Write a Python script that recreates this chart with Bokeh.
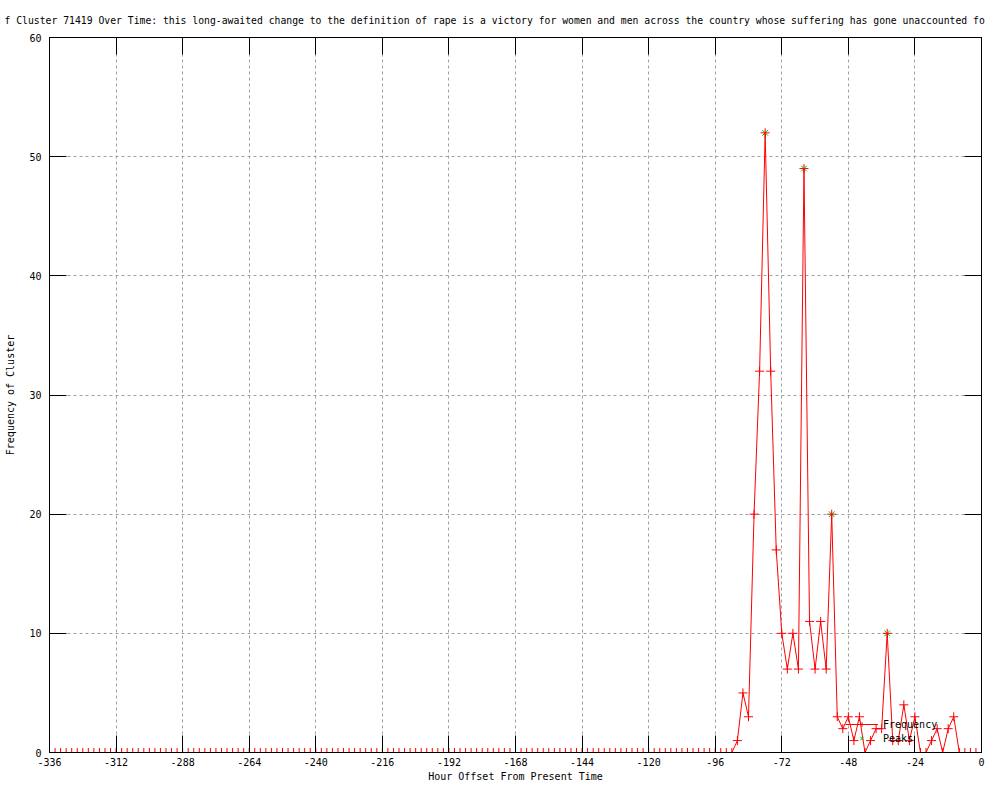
from bokeh.plotting import figure
from bokeh.models import (FixedTicker, LinearAxis, Range1d, Legend, LegendItem,
                          ColumnDataSource)
from bokeh.embed import file_html
from bokeh.resources import INLINE

# ---------------- data ----------------
hours = list(range(-336, 1, 2))  # one sample every 2 hours

freq_zero_head = [0] * 124  # -336 .. -90 : all zero
freq_active = [1, 5, 3, 20, 32, 52, 32, 17, 10, 7,
               10, 7, 49, 11, 7, 11, 7, 20, 3, 2,
               3, 1, 3, 0, 1, 2, 2, 10, 1, 1,
               4, 1, 3, 0, 0, 1, 2, 0, 2, 3]  # -88 .. -10
freq_zero_tail = [0, 0, 0, 0, 0]  # -8 .. 0
frequency = freq_zero_head + freq_active + freq_zero_tail

peak_hours = [-78, -64, -54, -34]
peak_values = [52, 49, 20, 10]

x_tick_values = [-336, -312, -288, -264, -240, -216, -192, -168, -144, -120, -96, -72, -48, -24, 0]
x_tick_labels = ["-336", "-312", "-288", "-264", "-240", "-216", "-192", "-168",
                 "-144", "-120", "-96", "-72", "-48", "-24", "0"]
y_tick_values = [0, 10, 20, 30, 40, 50, 60]
y_tick_labels = ["0", "10", "20", "30", "40", "50", "60"]

# the visible (clipped) part of the title in the reference
title_text = ("f Cluster 71419 Over Time: this long-awaited change to the definition "
              "of rape is a victory for women and men across the country whose suffering has "
              "gone unaccounted fo")

FONT = "DejaVu Sans Mono"
FS = "10px"
RED = "#ff0000"
GREEN = "#00c000"

src = ColumnDataSource(dict(h=hours, f=frequency))
psrc = ColumnDataSource(dict(h=peak_hours, v=peak_values))

p = figure(width=990, height=784, output_backend="svg", toolbar_location=None,
           x_range=Range1d(-336, 0), y_range=Range1d(0, 60),
           min_border_left=49, min_border_right=9, min_border_top=36, min_border_bottom=32,
           x_axis_label="Hour Offset From Present Time",
           y_axis_label="Frequency of Cluster")

p.title.text = title_text
p.title.text_font = FONT
p.title.text_font_size = "9.75px"
p.title.text_font_style = "normal"
p.title.text_color = "black"
p.title.align = "left"
p.title.offset = -45
p.title.standoff = 24

p.outline_line_color = "black"
p.outline_line_width = 1
p.background_fill_color = "white"
p.border_fill_color = "white"

def style_axis(ax, ticks, labels, show_labels=True):
    ax.ticker = FixedTicker(ticks=ticks)
    ax.major_tick_in = 17
    ax.major_tick_out = 0
    ax.minor_tick_line_color = None
    ax.major_tick_line_color = "black"
    ax.axis_line_color = "black"
    ax.major_label_text_font = FONT
    ax.major_label_text_font_size = FS
    ax.major_label_text_color = "black"
    ax.axis_label_text_font = FONT
    ax.axis_label_text_font_size = FS
    ax.axis_label_text_font_style = "normal"
    ax.axis_label_text_color = "black"
    if show_labels:
        ax.major_label_overrides = {t: l for t, l in zip(ticks, labels)}
    else:
        ax.major_label_overrides = {t: "" for t in ticks}
        ax.major_label_text_color = None
        ax.major_label_standoff = 0

style_axis(p.xaxis[0], x_tick_values, x_tick_labels)
style_axis(p.yaxis[0], y_tick_values, y_tick_labels)
p.xaxis[0].major_label_standoff = 5
p.xaxis[0].axis_label_standoff = 2
p.yaxis[0].major_label_standoff = 8
p.yaxis[0].axis_label_standoff = 10

top_ax = LinearAxis()
style_axis(top_ax, x_tick_values, x_tick_labels, show_labels=False)
p.add_layout(top_ax, "above")
right_ax = LinearAxis()
style_axis(right_ax, y_tick_values, y_tick_labels, show_labels=False)
p.add_layout(right_ax, "right")

for g, ticks in ((p.xgrid[0], x_tick_values), (p.ygrid[0], y_tick_values)):
    g.ticker = FixedTicker(ticks=ticks)
    g.grid_line_color = "#a0a0a0"
    g.grid_line_dash = "3 3"
    g.grid_line_width = 1

line_r = p.line("h", "f", source=src, line_color=RED, line_width=1)
peak_r = p.scatter("h", "v", source=psrc, marker="x", size=8, line_color=GREEN, line_width=1)
cross_r = p.scatter("h", "f", source=src, marker="cross", size=9, line_color=RED, line_width=1)

legend = Legend(items=[LegendItem(label="Frequency", renderers=[line_r, cross_r]),
                       LegendItem(label="Peaks", renderers=[peak_r])],
                location=(796, 8), orientation="vertical",
                background_fill_alpha=0, border_line_color=None,
                label_text_font=FONT, label_text_font_size=FS, label_text_color="black",
                glyph_width=33, glyph_height=12, label_height=12,
                spacing=2, padding=0, margin=0, label_standoff=5)
p.add_layout(legend)

open("out.html", "w").write(file_html(p, INLINE))
